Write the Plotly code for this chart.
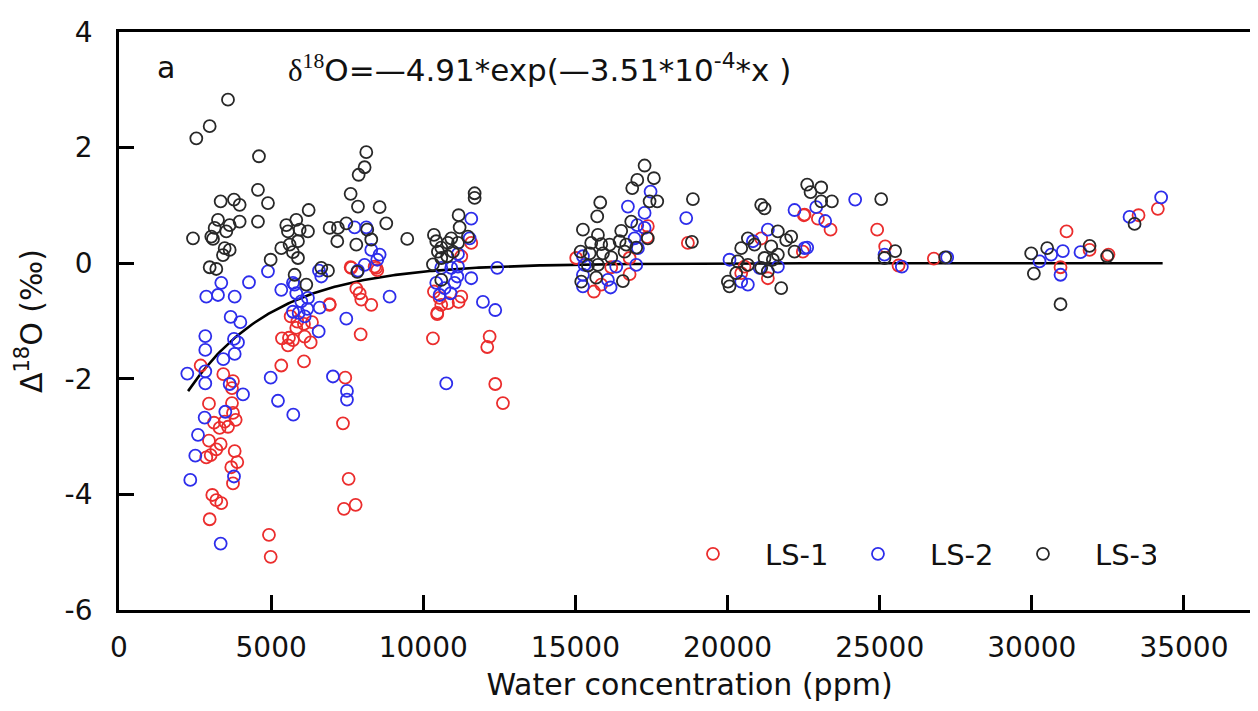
import numpy as np
import plotly.graph_objects as go

# ---------------- data ----------------
ls1_x = [2684, 3428, 3746, 3713, 2957, 3713, 3746, 3834, 3122, 3308, 3582, 3473, 2957, 3341, 3198, 2869,
         3013, 3802, 3887, 3691, 3746, 3067, 3198, 3362, 2980, 4929, 4985,
         5356, 5586, 5826, 5553, 5717, 6102, 6299, 6079, 5641, 5859, 6342, 6923, 5333, 6079, 7361, 7437,
         7547, 7394, 7777, 7942,
         7613, 8402, 8488, 7799, 7909, 8291, 6923, 7635, 7963, 8456,
         11577, 11249, 10351, 10537, 10460, 10811, 11162, 11249, 10591, 10318, 12181, 12103, 12366, 12618,
         10460,
         15027, 15608, 15849, 16781, 17380, 17358, 16781, 18697, 16177,
         21106, 21325, 20559, 22531, 20449, 22509, 22969, 23386, 24918, 25182, 25620, 26781, 31141, 30944,
         31898, 32520, 33508, 34142, 22476]
ls1_y = [-1.77, -1.92, -2.04, -2.16, -2.43, -2.42, -2.59, -2.71, -2.76, -2.85, -2.83, -2.74, -3.07, -3.13,
         -3.22, -3.36, -3.32, -3.25, -3.44, -3.53, -3.81, -4.01, -4.10, -4.15, -4.43, -4.70, -5.08,
         -1.30, -1.29, -1.12, -1.42, -1.33, -1.27, -1.37, -1.05, -0.92, -1.01, -1.02, -0.71, -1.77, -1.70,
         -2.77, -1.98, -3.73, -4.25, -4.18, -1.23,
         -0.07, -0.06, -0.12, -0.44, -0.52, -0.72, -0.72, -0.08, -0.63, -0.08,
         0.35, 0.12, -0.49, -0.60, -0.86, -0.69, -0.67, -0.58, -0.72, -1.30, -1.27, -1.45, -2.09, -2.42,
         -0.88,
         0.09, -0.49, -0.37, -0.19, 0.64, 0.45, 0.09, 0.35, -0.07,
         0.43, -0.26, -0.06, 0.84, -0.17, 0.83, 0.77, 0.58, 0.58, 0.29, -0.04, 0.08, 0.55, -0.07,
         0.23, 0.15, 0.83, 0.94, 0.20]

ls2_x = [3362, 2869, 3253, 3802, 4272, 4896, 3670, 3988, 2836, 2836, 3779, 3910, 3802, 3428, 2245, 2836,
         2836, 3637, 4075, 3494, 2815, 2596, 2508, 3779, 2343, 3341, 4985, 5225, 5728,
         5333, 5717, 5826, 5990, 6210, 5717, 5904, 6102, 6188, 6595, 6562, 6572, 7470, 7032, 7492, 7492,
         8894, 6648, 7744, 8127, 8291, 8566, 8488, 8072, 7854, 5772,
         11577, 11523, 11140, 10920, 11140, 12431, 10591, 10427, 10701, 10898, 10537, 11031, 11577, 11118,
         11961, 12366, 10755,
         16726, 17471, 17274, 17033, 18642, 16945, 15247, 15302, 15247, 15247, 16068, 16156, 16342, 16999,
         17055, 17274,
         21325, 20065, 20449, 20668, 21052, 21654, 22202, 20833, 22531, 22914, 23210, 24195, 22618, 25160,
         25729, 30254, 30637, 31021, 30944, 31602, 33213, 34251, 27219]
ls2_y = [-0.34, -0.58, -0.55, -0.58, -0.33, -0.14, -0.93, -1.02, -1.26, -1.50, -1.31, -1.37, -1.57, -1.66,
         -1.91, -1.87, -2.08, -2.09, -2.27, -2.57, -2.67, -2.97, -3.33, -3.69, -3.75, -4.85, -1.98, -2.38,
         -2.62,
         -0.46, -0.34, -0.52, -0.66, -0.60, -0.84, -0.86, -0.92, -0.79, -0.77, -1.18, -0.13, -0.96, -1.96,
         -2.21, -2.36, -0.58, -0.23, 0.62, 0.62, 0.23, 0.15, 0.06, -0.03, -0.13, -0.37,
         0.77, 0.43, 0.16, -0.08, -0.06, -0.08, -0.08, -0.34, -0.43, -0.52, -0.55, -0.34, -0.26, -0.23,
         -0.67, -0.81, -2.08,
         0.98, 1.24, 0.87, 0.66, 0.78, 0.43, 0.12, -0.03, -0.20, -0.40, -0.29, -0.42, -0.06, -0.03,
         0.26, 0.61,
         0.58, 0.06, -0.32, -0.37, -0.08, -0.06, 0.92, 0.38, 0.26, 0.97, 0.73, 1.10, 0.27, 0.15,
         -0.06, 0.03, 0.15, 0.21, -0.20, 0.19, 0.80, 1.14, 0.10]

ls3_x = [3582, 2541, 2980, 4600, 4567, 4896, 3341, 3779, 3965, 4567, 3965, 3253, 3637, 3144, 3526, 2432,
         3034, 3089, 3473, 3637, 3417, 2980, 3198, 4984,
         5498, 5826, 6233, 5553, 5937, 6210, 5333, 5608, 5882, 5717, 5882, 5772, 6155, 6648, 6868, 6923,
         7196, 7470, 7174, 7799, 7613, 7854, 8127, 8072, 7876, 8566, 8784, 8159, 8291, 9473, 7831,
         11688, 11688, 11162, 11195, 10351, 10427, 10920, 11468, 10811, 10591, 10975, 11140, 10789, 10318,
         10591, 10591, 10482,
         17274, 17033, 16868, 17580, 17690, 17438, 15816, 15717, 15247, 16835, 16506, 17380, 15740, 15520,
         15849, 16123, 16452, 16670, 16999, 15171, 15467, 15904, 16177, 16617, 15740, 15411, 15684, 15192,
         16561, 18862, 18829,
         21106, 21216, 20449, 20668, 20339, 20284, 20011, 20065, 20668, 21106, 21325, 21216, 21654, 21654,
         21928, 22092, 22202, 21490, 21764, 20887, 21435,
         22618, 23078, 22728, 23078, 23429, 25050, 25510, 25160, 27153, 29980, 30506, 30068, 30944, 31898,
         32476, 33377]
ls3_y = [2.83, 2.16, 2.37, 1.85, 1.27, 1.04, 1.07, 1.10, 1.01, 0.72, 0.72, 0.75, 0.66, 0.61, 0.55, 0.43,
         0.46, 0.42, 0.26, 0.23, 0.14, -0.07, -0.10, 0.06,
         0.66, 0.75, 0.92, 0.55, 0.58, 0.55, 0.26, 0.32, 0.38, 0.19, 0.09, -0.20, -0.37, -0.08, -0.13, 0.61,
         0.61, 0.69, 0.38, 0.32, 1.20, 0.98, 1.92, 1.66, 1.53, 0.97, 0.69, 0.58, 0.41, 0.42, -0.15,
         1.21, 1.13, 0.83, 0.62, 0.49, 0.38, 0.43, 0.46, 0.35, 0.27, 0.20, 0.35, 0.12, -0.02,
         0.09, -0.29, 0.20,
         1.69, 1.44, 1.30, 1.47, 1.07, 1.07, 1.05, 0.81, 0.58, 0.72, 0.56, 0.43, 0.49, 0.35,
         0.33, 0.32, 0.38, 0.32, 0.27, 0.20, 0.17, 0.17, 0.10, 0.20, -0.03, -0.04, -0.25, -0.32,
         -0.31, 1.11, 0.37,
         1.01, 0.95, 0.26, 0.43, 0.03, -0.17, -0.32, -0.40, -0.03, -0.08, -0.14, 0.09, 0.55, 0.15,
         0.40, 0.46, 0.20, 0.06, -0.43, 0.32, 0.29,
         1.36, 1.31, 1.23, 1.07, 1.07, 1.11, 0.21, 0.09, 0.10, 0.17, 0.26, -0.18, -0.71, 0.30,
         0.12, 0.68]

# fitted model stated on the chart: d18O = A*exp(k*x)
fit_A = -4.91
fit_k = -3.51e-4
fit_x_range = [2270, 34300]

x_ticks = [0, 5000, 10000, 15000, 20000, 25000, 30000, 35000]
y_ticks = [-6, -4, -2, 0, 2, 4]

series = [
    ("LS-1", ls1_x, ls1_y, "rgb(235,45,45)"),
    ("LS-2", ls2_x, ls2_y, "rgb(45,45,235)"),
    ("LS-3", ls3_x, ls3_y, "rgb(40,40,40)"),
]

FONT = "DejaVu Sans"
fig = go.Figure()

fit_x = np.linspace(fit_x_range[0], fit_x_range[1], 400)
fit_y = fit_A * np.exp(fit_k * fit_x)
fig.add_trace(go.Scatter(x=fit_x, y=fit_y, mode="lines", line=dict(color="black", width=2.6),
                         showlegend=False, hoverinfo="skip"))

for name, xs, ys, col in series:
    fig.add_trace(go.Scatter(
        x=xs, y=ys, mode="markers", name=name,
        marker=dict(symbol="circle-open", size=12, color=col, line=dict(width=1.8, color=col)),
    ))

axis_common = dict(
    showline=True, linecolor="black", linewidth=2.8, mirror=True,
    ticks="inside", ticklen=15, tickwidth=2.8, tickcolor="black",
    showgrid=False, zeroline=False, automargin=False,
    tickfont=dict(family=FONT, size=28, color="#111"),
)

fig.update_xaxes(range=[0, 37500], tickvals=x_ticks, ticktext=[str(v) for v in x_ticks],
                 title=dict(text="Water concentration (ppm)", font=dict(family=FONT, size=30, color="#111"),
                            standoff=12),
                 ticklabelstandoff=10, **axis_common)
fig.update_yaxes(range=[-6, 4], tickvals=y_ticks, ticktext=[str(v) for v in y_ticks],
                 title=dict(text="Δ<sup>18</sup>O (‰)", font=dict(family=FONT, size=30, color="#111"),
                            standoff=14),
                 ticklabelstandoff=18, **axis_common)

fig.add_annotation(x=0.041, y=0.938, xref="paper", yref="paper", text="a", showarrow=False,
                   font=dict(family=FONT, size=30, color="#111"), xanchor="center", yanchor="middle")
fig.add_annotation(
    x=0.146, y=0.938, xref="paper", yref="paper", showarrow=False, xanchor="left", yanchor="middle",
    text=('<span style="font-family:Liberation Serif">δ<sup>18</sup></span>'
          'O=—4.91*exp(—3.51*10<sup>-4</sup>*x )'),
    font=dict(family=FONT, size=31, color="#111"),
)

fig.update_layout(
    width=1258, height=711,
    margin=dict(l=111, r=6, t=24, b=109, autoexpand=False),
    paper_bgcolor="white", plot_bgcolor="white",
    font=dict(family=FONT, size=28, color="#111"),
    legend=dict(orientation="h", x=0.475, xanchor="left", y=0.097, yanchor="middle",
                font=dict(family=FONT, size=29, color="#111"), bgcolor="rgba(0,0,0,0)",
                itemwidth=94, entrywidth=56, traceorder="normal"),
)

fig.write_html("out.html")
